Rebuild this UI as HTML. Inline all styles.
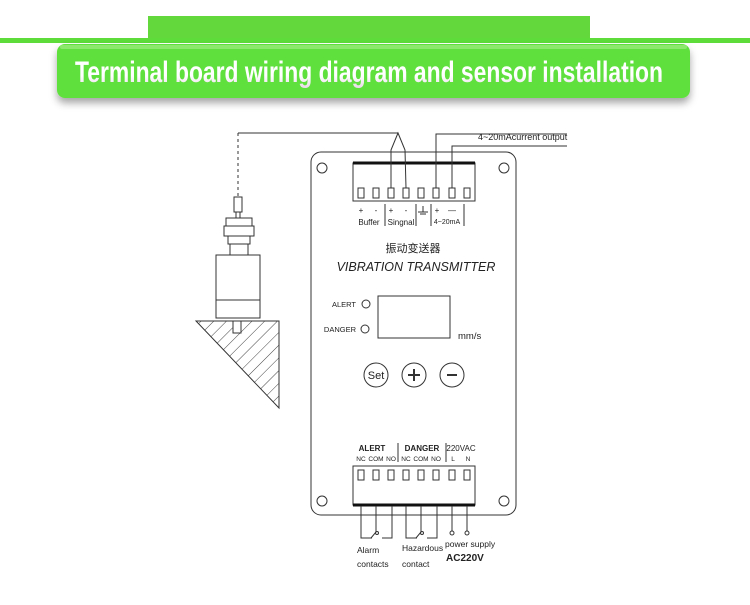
<!DOCTYPE html>
<html><head><meta charset="utf-8"><style>body{margin:0;background:#fff}svg{display:block}</style></head><body>
<svg width="750" height="605" viewBox="0 0 750 605" xmlns="http://www.w3.org/2000/svg" font-family="Liberation Sans, sans-serif">
<defs>
<linearGradient id="tg" x1="0" y1="0" x2="0" y2="1"><stop offset="0" stop-color="#fff"/><stop offset="0.6" stop-color="#fff"/><stop offset="1" stop-color="#e6d6e6"/></linearGradient>
<pattern id="hat" width="9" height="9" patternUnits="userSpaceOnUse" patternTransform="rotate(45)"><line x1="0" y1="0" x2="0" y2="9" stroke="#444" stroke-width="1"/></pattern>
<filter id="sh" x="-5%" y="-20%" width="110%" height="160%"><feDropShadow dx="0" dy="5" stdDeviation="4" flood-color="#000" flood-opacity="0.35"/></filter>
</defs>
<rect x="148" y="16" width="442" height="26" fill="#62d83c"/>
<rect x="0" y="38" width="750" height="5" fill="#5ddc3a"/>
<rect x="57" y="44" width="633" height="54" rx="8" fill="#5fe03c" filter="url(#sh)"/>
<rect x="60" y="45" width="627" height="4" rx="2" fill="#8be86c"/>
<text x="75" y="82" font-family="Liberation Sans Narrow, Liberation Sans, sans-serif" font-weight="bold" font-size="30" fill="url(#tg)" textLength="588" lengthAdjust="spacingAndGlyphs">Terminal board wiring diagram and sensor installation</text>
<g stroke="#333" fill="none" stroke-width="1">
<!-- board -->
<rect x="311" y="152" width="205" height="363" rx="10"/>
<circle cx="322" cy="168" r="5"/><circle cx="504" cy="168" r="5"/><circle cx="322" cy="501" r="5"/><circle cx="504" cy="501" r="5"/>
<!-- top terminal -->
<rect x="353" y="163" width="122" height="38"/>
<line x1="353" y1="163" x2="475" y2="163" stroke-width="3" stroke="#111"/>
<g id="ts">
<rect x="358" y="188" width="6" height="10"/><rect x="373" y="188" width="6" height="10"/><rect x="388" y="188" width="6" height="10"/><rect x="403" y="188" width="6" height="10"/><rect x="418" y="188" width="6" height="10"/><rect x="433" y="188" width="6" height="10"/><rect x="449" y="188" width="6" height="10"/><rect x="464" y="188" width="6" height="10"/>
</g>
<line x1="385" y1="204" x2="385" y2="226"/><line x1="416" y1="204" x2="416" y2="226"/><line x1="431" y1="204" x2="431" y2="226"/><line x1="464" y1="204" x2="464" y2="226"/>
<!-- wires top -->
<polyline points="391,188 391,150 398,133 405,150 406,188"/>
<line x1="238" y1="133" x2="398" y2="133"/>
<line x1="238" y1="133" x2="238" y2="197" stroke-dasharray="3,3"/>
<polyline points="436,188 436,134 567,134"/>
<polyline points="452,188 452,146 567,146"/>
<!-- ground -->
<line x1="423" y1="206" x2="423" y2="212"/><line x1="418" y1="212" x2="428" y2="212"/><line x1="420" y1="214" x2="426" y2="214"/>
<!-- display -->
<rect x="378" y="296" width="72" height="42"/>
<circle cx="366" cy="304" r="4"/><circle cx="365" cy="329" r="4"/>
<circle cx="376" cy="375" r="12"/><circle cx="414" cy="375" r="12"/><circle cx="452" cy="375" r="12"/>
<line x1="408" y1="375" x2="420" y2="375" stroke-width="2"/><line x1="414" y1="369" x2="414" y2="381" stroke-width="2"/>
<line x1="447" y1="375" x2="457" y2="375" stroke-width="2"/>
<!-- bottom terminal -->
<line x1="398" y1="443" x2="398" y2="462"/><line x1="446" y1="443" x2="446" y2="462"/>
<rect x="353" y="466" width="122" height="39"/>
<line x1="353" y1="505" x2="475" y2="505" stroke-width="3" stroke="#111"/>
<rect x="358" y="470" width="6" height="10"/><rect x="373" y="470" width="6" height="10"/><rect x="388" y="470" width="6" height="10"/><rect x="403" y="470" width="6" height="10"/><rect x="418" y="470" width="6" height="10"/><rect x="433" y="470" width="6" height="10"/><rect x="449" y="470" width="6" height="10"/><rect x="464" y="470" width="6" height="10"/>
<!-- bottom wires -->
<polyline points="361,506 361,538 372,538"/><polyline points="376,506 376,532 371,538"/><circle cx="377" cy="533" r="1.5"/><polyline points="392,506 392,538 382,538"/>
<polyline points="406,506 406,538 417,538"/><polyline points="421,506 421,532 416,538"/><circle cx="422" cy="533" r="1.5"/><polyline points="437,506 437,538 427,538"/>
<line x1="452" y1="506" x2="452" y2="531"/><circle cx="452" cy="533" r="2"/>
<line x1="467" y1="506" x2="467" y2="531"/><circle cx="467" cy="533" r="2"/>
<!-- sensor -->
<rect x="234" y="197" width="8" height="15"/>
<rect x="236" y="212" width="4" height="6"/>
<rect x="226" y="218" width="26" height="8"/>
<rect x="224" y="226" width="30" height="10"/>
<rect x="228" y="236" width="22" height="8"/>
<rect x="230" y="244" width="18" height="11"/>
<rect x="216" y="255" width="44" height="63"/>
<line x1="216" y1="300" x2="260" y2="300"/>
<polygon points="196,321 279,321 279,408" fill="url(#hat)"/>
<rect x="233" y="321" width="8" height="12" fill="#fff"/>
</g>
<g font-size="8" fill="#222" text-anchor="middle">
<text x="361" y="213">+</text><text x="376" y="213">-</text><text x="391" y="213">+</text><text x="406" y="213">-</text><text x="437" y="213">+</text><text x="452" y="213">—</text>
<text x="369" y="225">Buffer</text><text x="401" y="225">Singnal</text><text x="447" y="224" font-size="7">4~20mA</text>
<text x="372" y="451" font-weight="bold">ALERT</text><text x="422" y="451" font-weight="bold">DANGER</text><text x="461" y="451">220VAC</text>
<g font-size="6.5"><text x="361" y="461">NC</text><text x="376" y="461">COM</text><text x="391" y="461">NO</text><text x="406" y="461">NC</text><text x="421" y="461">COM</text><text x="436" y="461">NO</text><text x="453" y="461">L</text><text x="468" y="461">N</text></g>
</g>
<text x="413" y="252" font-family="Liberation Sans, Noto Sans CJK SC, sans-serif" font-size="11" text-anchor="middle" fill="#222">振动变送器</text>
<text x="416" y="271" font-size="12.5" font-style="italic" text-anchor="middle" fill="#222">VIBRATION TRANSMITTER</text>
<text x="356" y="307" font-size="7.5" text-anchor="end" fill="#222">ALERT</text>
<text x="356" y="332" font-size="7.5" text-anchor="end" fill="#222">DANGER</text>
<text x="458" y="339" font-size="9.5" fill="#222">mm/s</text>
<text x="376" y="379" font-size="11" text-anchor="middle" fill="#222">Set</text>
<text x="478" y="140" font-family="Liberation Sans Narrow, Liberation Sans, sans-serif" font-size="9" fill="#222">4~20mAcurrent output</text>
<g font-size="8.5" fill="#222">
<text x="357" y="553">Alarm</text><text x="357" y="567">contacts</text>
<text x="402" y="551">Hazardous</text><text x="402" y="567">contact</text>
<text x="445" y="547">power supply</text><text x="446" y="561" font-weight="bold" font-size="10">AC220V</text>
</g>
</svg>
</body></html>
